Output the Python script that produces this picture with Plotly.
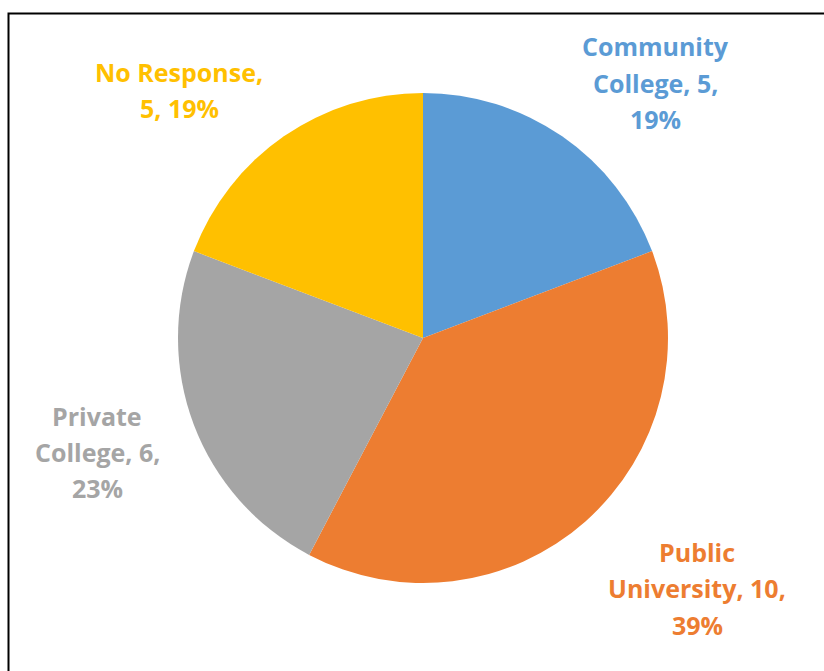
import plotly.graph_objects as go

# Data
categories = ["Community College", "Public University", "Private College", "No Response"]
counts = [5, 10, 6, 5]
pct_labels = ["19%", "39%", "23%", "19%"]
colors = ["#5B9BD5", "#ED7D31", "#A5A5A5", "#FFC000"]

W, H = 824, 671
cx, cy, R = 423, 338, 245

# label text lines and the centre position of each label block (pixels)
label_lines = [
    ["Community", "College, {c},", "{p}"],
    ["Public", "University, {c},", "{p}"],
    ["Private", "College, {c},", "{p}"],
    ["No Response,", "{c}, {p}"],
]
label_pos = [(655, 83), (697, 588), (97, 452), (179, 90)]
line_gap = 36.5

fig = go.Figure(go.Pie(
    labels=categories,
    values=counts,
    marker=dict(colors=colors, line=dict(color="white", width=0)),
    sort=False,
    direction="clockwise",
    rotation=0,
    textinfo="none",
    hoverinfo="label+value+percent",
    domain=dict(x=[(cx - R) / W, (cx + R) / W], y=[1 - (cy + R) / H, 1 - (cy - R) / H]),
    showlegend=False,
))

annotations = []
for i, cat in enumerate(categories):
    px, py = label_pos[i]
    lines = label_lines[i]
    n = len(lines)
    for j, ln in enumerate(lines):
        ly = py + (j - (n - 1) / 2) * line_gap
        annotations.append(dict(
            x=px / W, y=1 - ly / H, xref="paper", yref="paper",
            text="<b>" + ln.format(c=counts[i], p=pct_labels[i]) + "</b>",
            showarrow=False, align="center", xanchor="center", yanchor="middle",
            font=dict(family="Open Sans", size=25, color=colors[i]),
        ))

fig.update_layout(
    width=W, height=H,
    margin=dict(l=0, r=0, t=0, b=0),
    paper_bgcolor="white",
    plot_bgcolor="white",
    annotations=annotations,
    shapes=[dict(type="rect", xref="paper", yref="paper",
                 x0=8.5 / W, x1=1.05, y0=-0.05, y1=1 - 13.5 / H,
                 line=dict(color="black", width=2), fillcolor="rgba(0,0,0,0)")],
)

fig.write_html("out.html")
